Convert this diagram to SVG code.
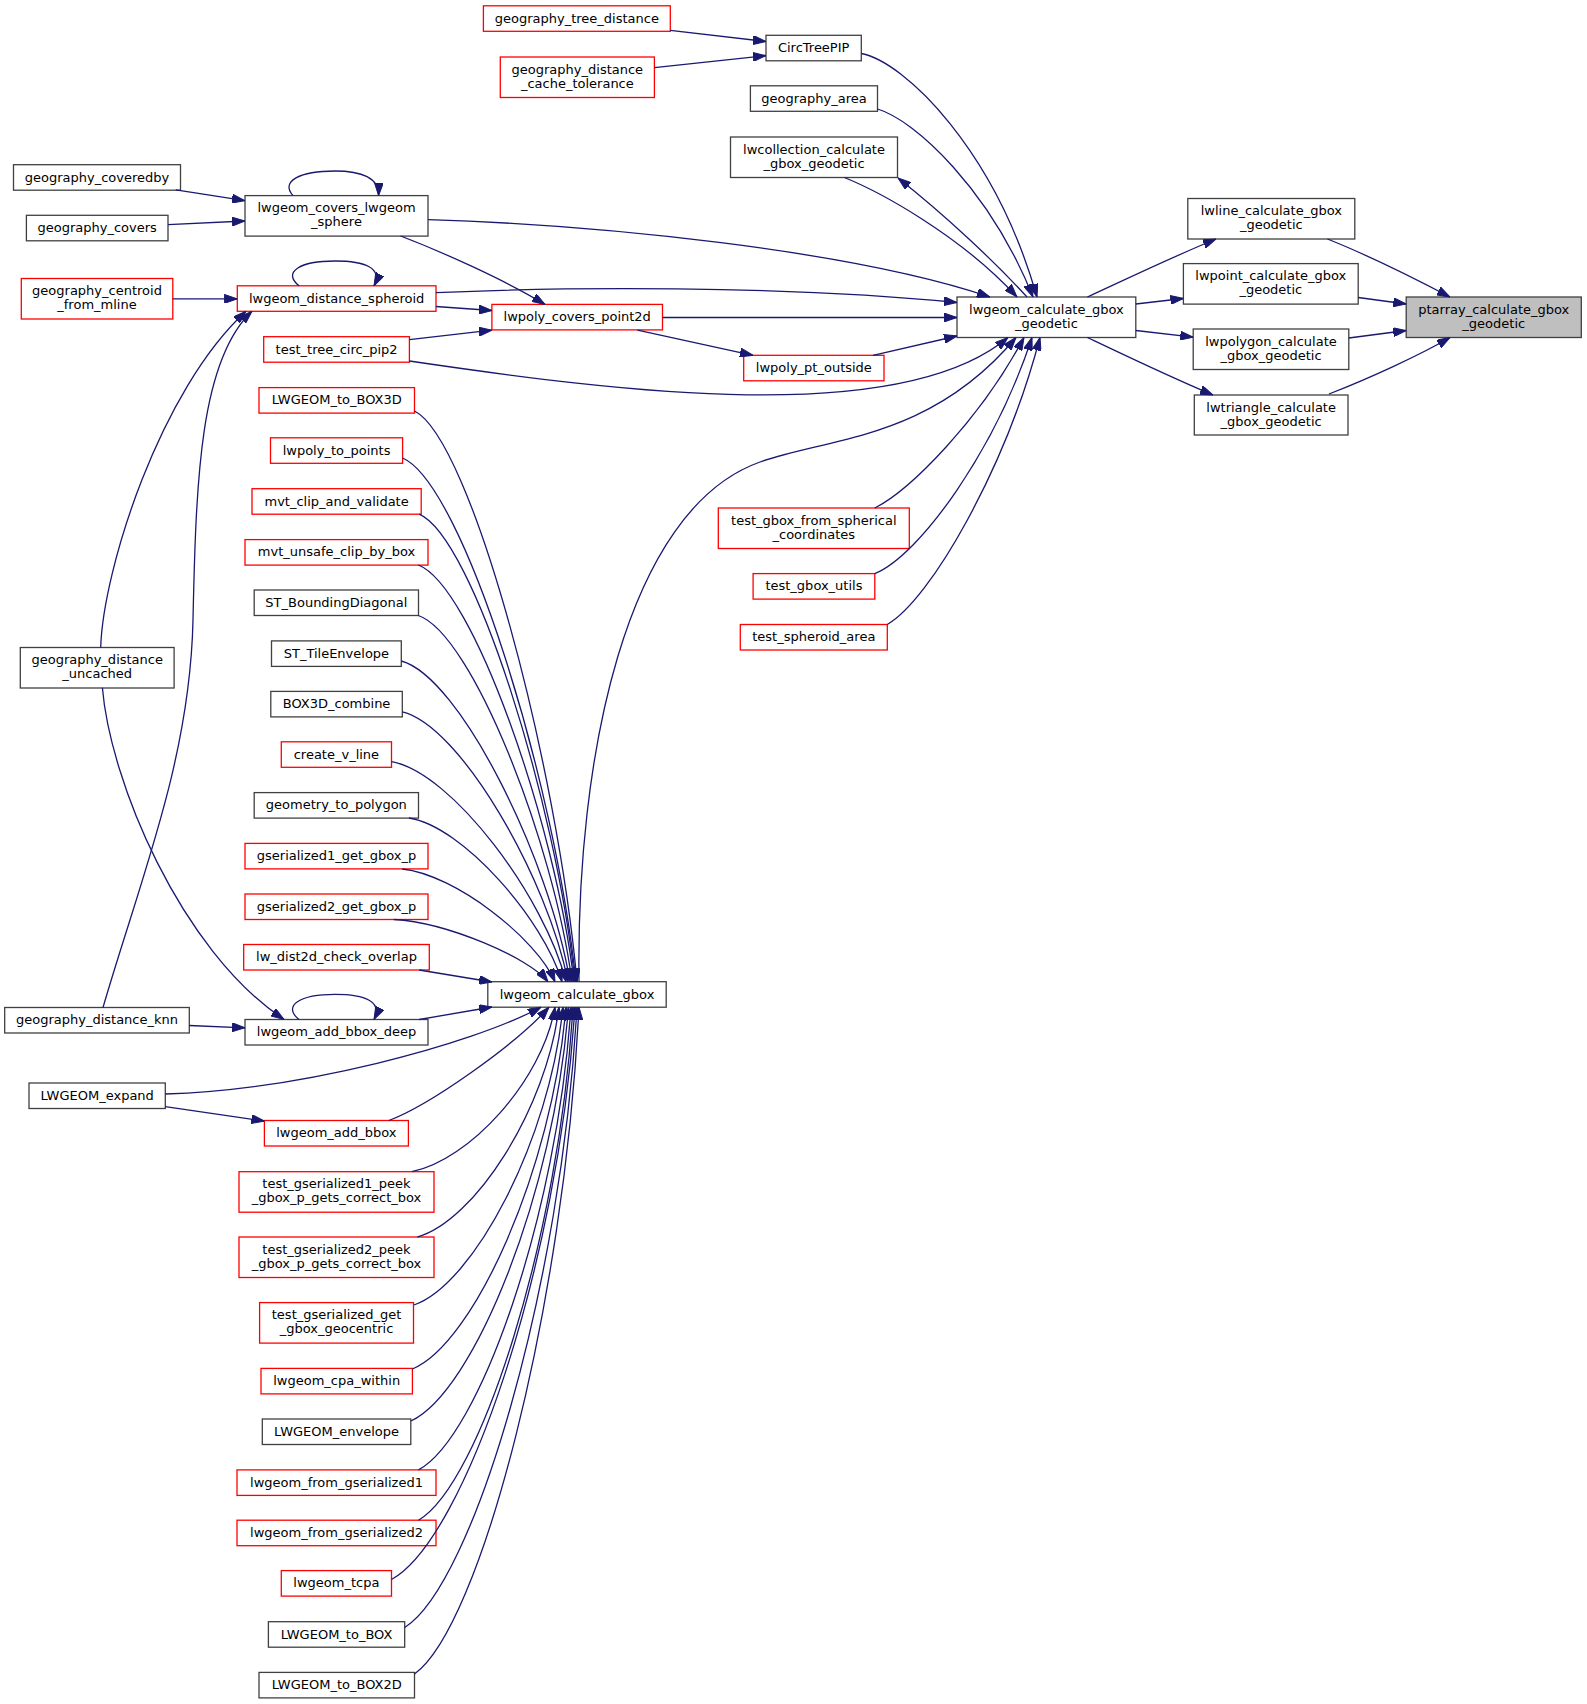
<svg xmlns="http://www.w3.org/2000/svg" width="1587" height="1704" viewBox="0 0 1587 1704">
<style>
.n rect{fill:#fff;stroke:#404040;stroke-width:1.3}
.r rect{fill:#fff;stroke:#ff0000;stroke-width:1.3}
.g rect{fill:#bfbfbf;stroke:#404040;stroke-width:1.3}
text{font-family:"DejaVu Sans","Liberation Sans",sans-serif;font-size:13px;text-anchor:middle;fill:#000}
#edges path{fill:none;stroke:#191970;stroke-width:1.3;marker-end:url(#a)}
</style>
<defs>
<marker id="a" markerWidth="13" markerHeight="9" refX="13" refY="4.5" orient="auto" markerUnits="userSpaceOnUse">
<path d="M0,0 L13,4.5 L0,9 z" fill="#191970" stroke="#191970" stroke-width="1"/>
</marker>
</defs>
<rect width="1587" height="1704" fill="#fff"/>
<g id="nodes">
<g id="n_coveredby" class="n"><rect x="13.5" y="164.7" width="167" height="25.5"/><text x="97" y="181.5">geography_coveredby</text></g>
<g id="n_covers" class="n"><rect x="26.4" y="215.3" width="141.6" height="25.5"/><text x="97.2" y="232.1">geography_covers</text></g>
<g id="n_centroid" class="r"><rect x="21.3" y="278.5" width="151.5" height="40.5"/><text x="97" y="295">geography_centroid</text><text x="97" y="309.2">_from_mline</text></g>
<g id="n_uncached" class="n"><rect x="20.3" y="647.5" width="153.8" height="40.5"/><text x="97.2" y="664">geography_distance</text><text x="97.2" y="678.2">_uncached</text></g>
<g id="n_knn" class="n"><rect x="4.7" y="1007.5" width="184.6" height="25.5"/><text x="97" y="1024.3">geography_distance_knn</text></g>
<g id="n_expand" class="n"><rect x="29" y="1083" width="136.3" height="25.5"/><text x="97.2" y="1099.8">LWGEOM_expand</text></g>

<g id="n_sphere" class="n"><rect x="245" y="195.6" width="183" height="40.5"/><text x="336.5" y="212.1">lwgeom_covers_lwgeom</text><text x="336.5" y="226.3">_sphere</text></g>
<g id="n_spheroid" class="r"><rect x="237.3" y="285.8" width="198.7" height="25.5"/><text x="336.6" y="302.6">lwgeom_distance_spheroid</text></g>
<g id="n_pip2" class="r"><rect x="263.7" y="336.7" width="145.7" height="25.5"/><text x="336.6" y="353.5">test_tree_circ_pip2</text></g>
<g id="n_box3d" class="r"><rect x="259" y="387.6" width="155.5" height="25.5"/><text x="336.75" y="404.4">LWGEOM_to_BOX3D</text></g>
<g id="n_topoints" class="r"><rect x="270.5" y="437.8" width="132.1" height="25.5"/><text x="336.55" y="454.6">lwpoly_to_points</text></g>
<g id="n_mvtclip" class="r"><rect x="252" y="488.7" width="169.2" height="25.5"/><text x="336.6" y="505.5">mvt_clip_and_validate</text></g>
<g id="n_mvtunsafe" class="r"><rect x="245" y="539.6" width="183" height="25.5"/><text x="336.5" y="556.4">mvt_unsafe_clip_by_box</text></g>
<g id="n_stbd" class="n"><rect x="254.2" y="590" width="164.3" height="25.5"/><text x="336.35" y="606.8">ST_BoundingDiagonal</text></g>
<g id="n_tile" class="n"><rect x="271.5" y="640.9" width="129.8" height="25.5"/><text x="336.4" y="657.7">ST_TileEnvelope</text></g>
<g id="n_b3dc" class="n"><rect x="270.8" y="691.4" width="131.5" height="25.5"/><text x="336.55" y="708.2">BOX3D_combine</text></g>
<g id="n_vline" class="r"><rect x="281.3" y="741.8" width="110.2" height="25.5"/><text x="336.4" y="758.6">create_v_line</text></g>
<g id="n_gtp" class="n"><rect x="254.2" y="792.6" width="164.3" height="25.5"/><text x="336.35" y="809.4">geometry_to_polygon</text></g>
<g id="n_gs1" class="r"><rect x="245" y="843.4" width="183" height="25.5"/><text x="336.5" y="860.2">gserialized1_get_gbox_p</text></g>
<g id="n_gs2" class="r"><rect x="245" y="894" width="183" height="25.5"/><text x="336.5" y="910.8">gserialized2_get_gbox_p</text></g>
<g id="n_dist2d" class="r"><rect x="243.7" y="944.5" width="185.6" height="25.5"/><text x="336.5" y="961.3">lw_dist2d_check_overlap</text></g>
<g id="n_bboxdeep" class="n"><rect x="245" y="1019.5" width="183" height="25.5"/><text x="336.5" y="1036.3">lwgeom_add_bbox_deep</text></g>
<g id="n_bbox" class="r"><rect x="264.4" y="1120.5" width="144" height="25.5"/><text x="336.4" y="1137.3">lwgeom_add_bbox</text></g>
<g id="n_tg1" class="r"><rect x="239" y="1171.7" width="195" height="40.5"/><text x="336.5" y="1188.2">test_gserialized1_peek</text><text x="336.5" y="1202.4">_gbox_p_gets_correct_box</text></g>
<g id="n_tg2" class="r"><rect x="239" y="1237" width="195" height="40.5"/><text x="336.5" y="1253.5">test_gserialized2_peek</text><text x="336.5" y="1267.7">_gbox_p_gets_correct_box</text></g>
<g id="n_geoc" class="r"><rect x="259.6" y="1302.6" width="153.9" height="40.5"/><text x="336.55" y="1319.1">test_gserialized_get</text><text x="336.55" y="1333.3">_gbox_geocentric</text></g>
<g id="n_cpa" class="r"><rect x="261" y="1368.4" width="151.4" height="25.5"/><text x="336.7" y="1385.2">lwgeom_cpa_within</text></g>
<g id="n_env" class="n"><rect x="262.3" y="1419" width="148.5" height="25.5"/><text x="336.55" y="1435.8">LWGEOM_envelope</text></g>
<g id="n_fg1" class="r"><rect x="237" y="1469.9" width="199" height="25.5"/><text x="336.5" y="1486.7">lwgeom_from_gserialized1</text></g>
<g id="n_fg2" class="r"><rect x="237" y="1520.2" width="199" height="25.5"/><text x="336.5" y="1537">lwgeom_from_gserialized2</text></g>
<g id="n_tcpa" class="r"><rect x="281.3" y="1570.6" width="110.2" height="25.5"/><text x="336.4" y="1587.4">lwgeom_tcpa</text></g>
<g id="n_tobox" class="n"><rect x="268.4" y="1621.7" width="136.3" height="25.5"/><text x="336.55" y="1638.5">LWGEOM_to_BOX</text></g>
<g id="n_tobox2d" class="n"><rect x="259" y="1672.4" width="155.5" height="25.5"/><text x="336.75" y="1689.2">LWGEOM_to_BOX2D</text></g>

<g id="n_treedist" class="r"><rect x="483.4" y="5.8" width="186.9" height="25.5"/><text x="576.85" y="22.6">geography_tree_distance</text></g>
<g id="n_cachetol" class="r"><rect x="500.3" y="57" width="154.1" height="40.5"/><text x="577.35" y="73.5">geography_distance</text><text x="577.35" y="87.7">_cache_tolerance</text></g>
<g id="n_coverspt" class="r"><rect x="491.9" y="304.4" width="170.6" height="25.5"/><text x="577.2" y="321.2">lwpoly_covers_point2d</text></g>
<g id="n_calcgbox" class="n"><rect x="487.8" y="981.7" width="178.4" height="25.5"/><text x="577" y="998.5">lwgeom_calculate_gbox</text></g>

<g id="n_circ" class="n"><rect x="766" y="35.3" width="95.3" height="25.5"/><text x="813.65" y="52.1">CircTreePIP</text></g>
<g id="n_area" class="n"><rect x="750.4" y="85.8" width="127.1" height="25.5"/><text x="813.95" y="102.6">geography_area</text></g>
<g id="n_coll" class="n"><rect x="730.5" y="137" width="167" height="40.5"/><text x="814" y="153.5">lwcollection_calculate</text><text x="814" y="167.7">_gbox_geodetic</text></g>
<g id="n_ptout" class="r"><rect x="743.7" y="355.3" width="140.3" height="25.5"/><text x="813.85" y="372.1">lwpoly_pt_outside</text></g>
<g id="n_tgbfs" class="r"><rect x="718.3" y="508" width="191" height="40.5"/><text x="813.8" y="524.5">test_gbox_from_spherical</text><text x="813.8" y="538.7">_coordinates</text></g>
<g id="n_utils" class="r"><rect x="753.1" y="573.6" width="121.7" height="25.5"/><text x="813.95" y="590.4">test_gbox_utils</text></g>
<g id="n_sparea" class="r"><rect x="740.3" y="624.5" width="147" height="25.5"/><text x="813.8" y="641.3">test_spheroid_area</text></g>

<g id="n_geodetic" class="n"><rect x="957" y="297" width="178.8" height="40.5"/><text x="1046.4" y="313.5">lwgeom_calculate_gbox</text><text x="1046.4" y="327.7">_geodetic</text></g>

<g id="n_lwline" class="n"><rect x="1187.8" y="198.5" width="167" height="40.5"/><text x="1271.3" y="215">lwline_calculate_gbox</text><text x="1271.3" y="229.2">_geodetic</text></g>
<g id="n_lwpoint" class="n"><rect x="1183.4" y="263.6" width="174.8" height="40.5"/><text x="1270.8" y="280.1">lwpoint_calculate_gbox</text><text x="1270.8" y="294.3">_geodetic</text></g>
<g id="n_lwpolygon" class="n"><rect x="1193.2" y="329" width="155.6" height="40.5"/><text x="1271" y="345.5">lwpolygon_calculate</text><text x="1271" y="359.7">_gbox_geodetic</text></g>
<g id="n_lwtriangle" class="n"><rect x="1194.3" y="395" width="153.7" height="40"/><text x="1271.15" y="411.5">lwtriangle_calculate</text><text x="1271.15" y="425.7">_gbox_geodetic</text></g>

<g id="n_ptarray" class="g"><rect x="1406.2" y="297" width="175.1" height="40.5"/><text x="1493.75" y="313.5">ptarray_calculate_gbox</text><text x="1493.75" y="327.7">_geodetic</text></g>
</g>
<g id="edges">
<path d="M1327.5,239 C1360,252 1410,276 1450,297"/>
<path d="M1358.2,297.5 L1406.2,304"/>
<path d="M1348.8,338 L1406.2,330.5"/>
<path d="M1329,394 C1370,378 1420,355 1450,337.5"/>
<path d="M1087.4,297 C1120,282 1170,258 1216,239"/>
<path d="M1135.8,304 L1183.4,298.5"/>
<path d="M1135.8,330.5 L1193.2,337.2"/>
<path d="M1087.4,337.5 C1120,353 1170,377 1213,395"/>
<path d="M861.3,53.5 C905,62 995,150 1037,297"/>
<path d="M877.5,109 C915,120 990,190 1033,297"/>
<path d="M844.4,177.5 C880,192 960,235 1017,297"/>
<path d="M1027,297 C995,262 945,215 898,178"/>
<path d="M428,219.6 C600,225 850,250 990,297"/>
<path d="M436,292.7 C560,287 780,285 957,302.5"/>
<path d="M662.5,317.5 L957,317.5"/>
<path d="M873,355.3 L957,336"/>
<path d="M409.4,361 C620,392 900,428 1008,337.5"/>
<path d="M579,981.7 C576,760 625,510 760,462 C830,437.1 930,440 1016,337.5"/>
<path d="M874.8,508 C910,490 980,420 1024,337.5"/>
<path d="M874.8,573.6 C920,555 995,450 1032,337.5"/>
<path d="M887.3,624.5 C930,600 1005,470 1040,337.5"/>
<path d="M670.3,30.4 L766,41.5"/>
<path d="M654.4,67.6 L766,55.6"/>
<path d="M175.8,189.8 L245,200.7"/>
<path d="M168,224.7 L245,221"/>
<path d="M293,195.6 C280,181 300,171 335,171 C362,171 379,178 378.6,195.6"/>
<path d="M400.6,236 C440,251 505,280 545,304.4"/>
<path d="M436,306.5 L491.9,310.5"/>
<path d="M409.4,339.6 L491.9,330.2"/>
<path d="M637.5,330.2 L753,355.3"/>
<path d="M172.8,298.9 L237.3,298.9"/>
<path d="M299,285.8 C282,272 300,261 335,261 C365,261 383,268 374,285.8"/>
<path d="M100.7,647.5 C103,570 160,390 246,311.3"/>
<path d="M103,1007.5 C140,880 190,760 193,620 C196,480 200,360 252,311.3"/>
<path d="M102.4,687.8 C110,780 180,950 284,1019.5"/>
<path d="M189.3,1025.5 L245,1027.8"/>
<path d="M299,1019.5 C282,1005.5 300,994.4 335,994.4 C365,994.4 383,1001.5 374,1019.5"/>
<path d="M414.5,411 C471.4,439.5 557.5,764.8 577,981.7"/>
<path d="M402.6,458 C463.3,484.2 555.2,782.7 576,981.7"/>
<path d="M419.2,514.2 C473.7,537.6 556.3,804.1 575,981.7"/>
<path d="M418.3,565 C472.8,585.8 555.3,823.4 574,981.7"/>
<path d="M418.3,615.5 C472.1,633.8 553.6,842.5 572,981.7"/>
<path d="M401.3,661 C460.3,677 549.8,859.8 570,981.7"/>
<path d="M402.3,711.8 C460.3,725.3 548.1,879.1 568,981.7"/>
<path d="M391.5,761.6 C452.6,772.6 545.1,898.1 566,981.7"/>
<path d="M409,818 C462.6,826.2 543.6,919.5 562,981.7"/>
<path d="M402.3,869 C455.7,874.6 536.7,938.9 555,981.7"/>
<path d="M393.8,919.5 C447.8,922.6 529.5,958.1 548,981.7"/>
<path d="M419.2,970 L492,982"/>
<path d="M419.2,1019.5 L492,1007"/>
<path d="M165.3,1094 C300,1090 470,1045 541,1007.2"/>
<path d="M165.3,1106.7 L264.4,1121"/>
<path d="M388.8,1120.5 C430,1105 515,1045 549,1007.2"/>
<path d="M411.8,1171.7 C469.1,1160.2 542.1,1081.2 555,1007.2"/>
<path d="M417.5,1237 C474.1,1220.9 546.3,1110.6 559,1007.2"/>
<path d="M414,1305 C473.6,1284.2 549.6,1141.2 563,1007.2"/>
<path d="M412.4,1369 C473.8,1343.7 552.2,1170 566,1007.2"/>
<path d="M410.8,1421 C473.9,1392 554.3,1193.4 568.5,1007.2"/>
<path d="M418.5,1469.9 C479.5,1437.1 557.3,1215.2 571,1007.2"/>
<path d="M418.5,1520.2 C480.3,1484.1 559.1,1238 573,1007.2"/>
<path d="M391.5,1579.5 C464.9,1539.4 558.5,1264.7 575,1007.2"/>
<path d="M404.7,1627.5 C473.6,1584.1 561.5,1286.3 577,1007.2"/>
<path d="M414.5,1674 C480.3,1627.3 564.2,1307.3 579,1007.2"/>
</g>
</svg>
